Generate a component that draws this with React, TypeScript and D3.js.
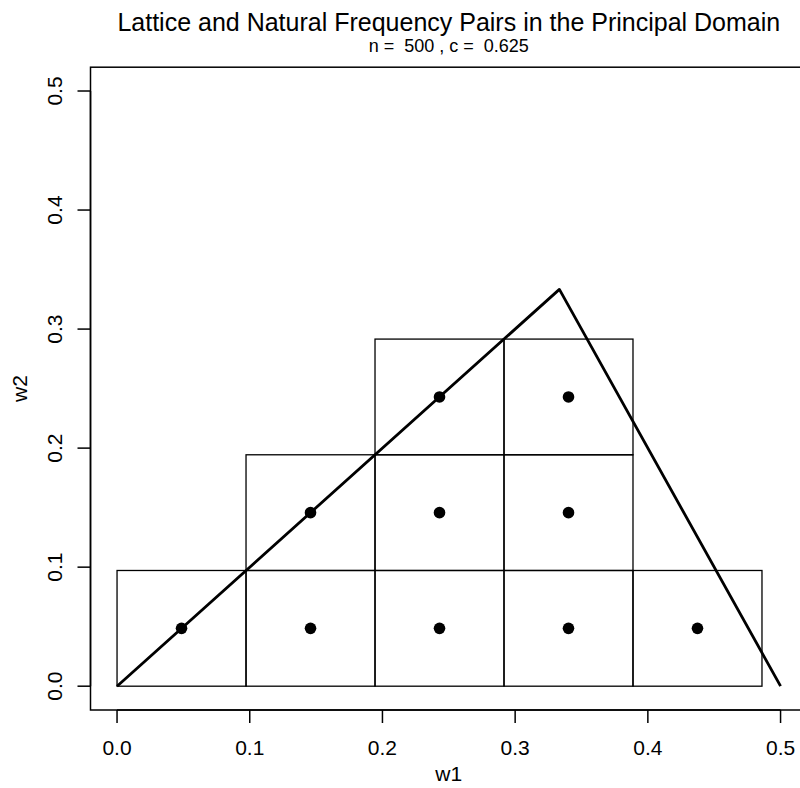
import React from 'react';
import * as d3 from 'd3';

// lattice frequency pairs (cell centres) and the half width of each cell
const pointW1 = [0.0486, 0.1458, 0.243, 0.3402, 0.4374, 0.1458, 0.243, 0.3402, 0.243, 0.3402];
const pointW2 = [0.0486, 0.0486, 0.0486, 0.0486, 0.0486, 0.1458, 0.1458, 0.1458, 0.243, 0.243];
const cellHalf = 0.0486;

// principal domain triangle
const domainW1 = [0, 1 / 3, 0.5];
const domainW2 = [0, 1 / 3, 0];

const tickValues = [0, 0.1, 0.2, 0.3, 0.4, 0.5];
const tickLabels = ['0.0', '0.1', '0.2', '0.3', '0.4', '0.5'];

const width = 800,
  height = 788;
const font = '"Liberation Sans", Arial, Helvetica, sans-serif';

export default function App() {
  const x = d3.scaleLinear().domain([-0.02, 0.52]).range([90.5, 807.1]);
  const y = d3.scaleLinear().domain([-0.02, 0.52]).range([710, 67.2]);

  const tri = d3
    .line<number>()
    .x(i => x(domainW1[i]))
    .y(i => y(domainW2[i]))(d3.range(domainW1.length));

  const cx = (x.range()[0] + x.range()[1]) / 2;

  return (
    <svg
      width={width}
      height={height}
      style={{ position: 'absolute', left: 0, top: 0, background: '#fff' }}
      fontFamily={font}
    >
      <text x={cx} y={31} textAnchor="middle" fontSize={25} fill="#000">
        Lattice and Natural Frequency Pairs in the Principal Domain
      </text>
      <text x={cx} y={52} textAnchor="middle" fontSize={18} fill="#000" style={{ whiteSpace: 'pre' }}>
        {'n =  500 , c =  0.625'}
      </text>

      {/* cells */}
      <g fill="none" stroke="#000" strokeWidth={1.3}>
        {pointW1.map((w1, i) => (
          <rect
            key={i}
            x={x(w1 - cellHalf)}
            y={y(pointW2[i] + cellHalf)}
            width={x(w1 + cellHalf) - x(w1 - cellHalf)}
            height={y(pointW2[i] - cellHalf) - y(pointW2[i] + cellHalf)}
          />
        ))}
      </g>

      <path d={tri || ''} fill="none" stroke="#000" strokeWidth={2.8} strokeLinejoin="round" />

      <g fill="#000">
        {pointW1.map((w1, i) => (
          <circle key={i} cx={x(w1)} cy={y(pointW2[i])} r={5.8} />
        ))}
      </g>

      {/* frame */}
      <rect
        x={x(-0.02)}
        y={y(0.52)}
        width={x(0.52) - x(-0.02)}
        height={y(-0.02) - y(0.52)}
        fill="none"
        stroke="#000"
        strokeWidth={1.5}
      />

      {/* x axis */}
      <g stroke="#000" strokeWidth={1.5}>
        <line x1={x(0)} x2={x(0.5)} y1={y(-0.02)} y2={y(-0.02)} />
        {tickValues.map(t => (
          <line key={t} x1={x(t)} x2={x(t)} y1={y(-0.02)} y2={y(-0.02) + 13} />
        ))}
      </g>
      {tickValues.map((t, i) => (
        <text key={t} x={x(t)} y={755} textAnchor="middle" fontSize={21} fill="#000">
          {tickLabels[i]}
        </text>
      ))}
      <text x={cx} y={781} textAnchor="middle" fontSize={21} fill="#000">
        w1
      </text>

      {/* y axis */}
      <g stroke="#000" strokeWidth={1.5}>
        <line x1={x(-0.02)} x2={x(-0.02)} y1={y(0)} y2={y(0.5)} />
        {tickValues.map(t => (
          <line key={t} x1={x(-0.02) - 13} x2={x(-0.02)} y1={y(t)} y2={y(t)} />
        ))}
      </g>
      {tickValues.map((t, i) => (
        <text
          key={t}
          transform={`translate(62,${y(t)}) rotate(-90)`}
          textAnchor="middle"
          fontSize={21}
          fill="#000"
        >
          {tickLabels[i]}
        </text>
      ))}
      <text
        transform={`translate(27,${(y.range()[0] + y.range()[1]) / 2}) rotate(-90)`}
        textAnchor="middle"
        fontSize={21}
        fill="#000"
      >
        w2
      </text>
    </svg>
  );
}
